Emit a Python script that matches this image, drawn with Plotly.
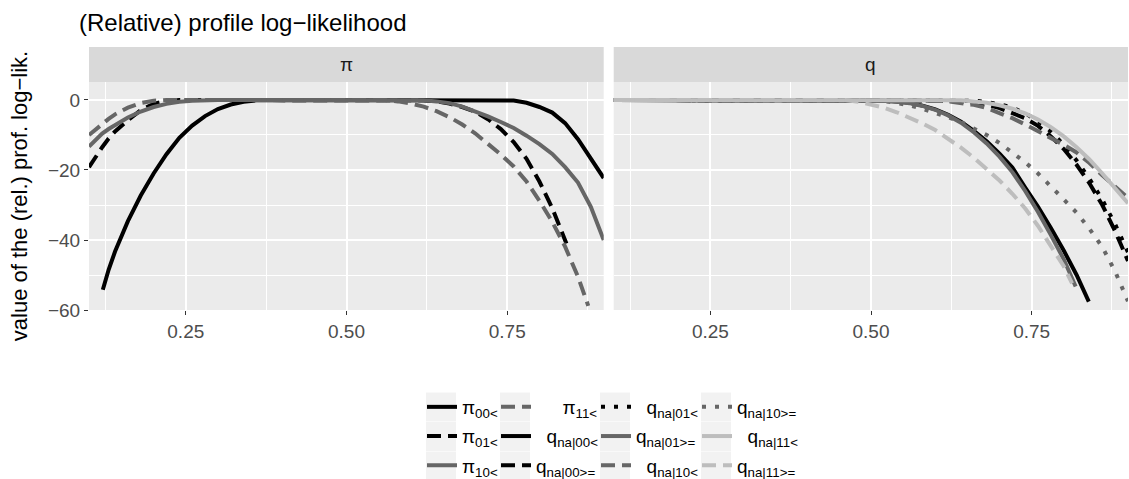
import plotly.graph_objects as go

# ---------------- data ----------------
# panel "pi"
pi00_x = [0.121, 0.13, 0.14, 0.15, 0.16, 0.18, 0.20, 0.22, 0.24, 0.26, 0.28, 0.30, 0.32, 0.34, 0.36, 0.38, 0.50, 0.74, 0.76, 0.78, 0.80, 0.82, 0.84, 0.86, 0.88, 0.90]
pi00_y = [-54.2, -48.5, -43.3, -38.8, -34.6, -27.3, -21.0, -15.5, -10.8, -7.3, -4.6, -2.6, -1.3, -0.5, -0.1, 0, 0, 0, -0.15, -0.8, -2.0, -3.6, -6.6, -11.2, -16.6, -22.3]

pi01_x = [0.0995, 0.11, 0.12, 0.13, 0.14, 0.16, 0.18, 0.20, 0.22, 0.24, 0.40, 0.60, 0.62, 0.64, 0.66, 0.68, 0.70, 0.72, 0.74, 0.76, 0.78, 0.80, 0.82, 0.842]
pi01_y = [-19.2, -16.0, -13.5, -11.0, -9.0, -5.8, -2.9, -1.1, -0.3, 0, 0, 0, -0.1, -0.4, -1.0, -2.0, -3.3, -5.5, -8.3, -12.0, -16.8, -23.3, -30.9, -41.0]

pi10_x = [0.0995, 0.11, 0.12, 0.13, 0.14, 0.16, 0.18, 0.20, 0.22, 0.24, 0.26, 0.28, 0.30, 0.45, 0.60, 0.62, 0.64, 0.66, 0.68, 0.70, 0.72, 0.74, 0.76, 0.78, 0.80, 0.82, 0.84, 0.86, 0.88, 0.90]
pi10_y = [-13.3, -11.2, -9.6, -8.3, -7.1, -5.0, -3.3, -2.0, -1.1, -0.5, -0.2, -0.05, 0, 0, 0, -0.1, -0.4, -0.9, -1.9, -3.2, -4.7, -6.3, -8.0, -10.2, -12.6, -15.4, -19.2, -23.6, -30.5, -40.0]

pi11_x = [0.0995, 0.11, 0.12, 0.13, 0.14, 0.16, 0.18, 0.20, 0.22, 0.40, 0.56, 0.58, 0.60, 0.62, 0.64, 0.66, 0.68, 0.70, 0.72, 0.74, 0.76, 0.78, 0.80, 0.82, 0.84, 0.86, 0.876]
pi11_y = [-10.0, -8.3, -6.9, -5.4, -4.1, -2.2, -0.9, -0.2, 0, 0, 0, -0.4, -1.0, -1.9, -3.2, -4.9, -7.0, -9.5, -12.4, -15.6, -19.0, -23.3, -28.8, -34.8, -41.9, -50.5, -58.8]

# panel "q"
q00l_x = [0.0995, 0.30, 0.48, 0.50, 0.52, 0.54, 0.56, 0.58, 0.60, 0.62, 0.64, 0.66, 0.68, 0.70, 0.72, 0.74, 0.76, 0.78, 0.80, 0.82, 0.839]
q00l_y = [0, 0, 0, -0.05, -0.2, -0.4, -0.8, -1.6, -2.7, -4.2, -6.2, -8.8, -11.8, -15.3, -19.3, -25.0, -30.5, -36.6, -43.0, -50.0, -57.6]

q00g_x = [0.0995, 0.30, 0.60, 0.62, 0.64, 0.66, 0.68, 0.70, 0.72, 0.74, 0.76, 0.78, 0.80, 0.82, 0.84, 0.86, 0.88, 0.90]
q00g_y = [0, 0, 0, -0.2, -0.4, -0.8, -1.3, -2.3, -3.6, -5.2, -7.4, -10.4, -14.0, -18.5, -23.8, -30.0, -37.5, -46.0]

q01l_x = [0.0995, 0.30, 0.64, 0.66, 0.68, 0.70, 0.72, 0.74, 0.76, 0.78, 0.80, 0.82, 0.84, 0.86, 0.88, 0.90]
q01l_y = [0, 0, 0, -0.2, -0.6, -1.2, -2.2, -3.8, -6.0, -9.0, -12.8, -17.3, -22.5, -28.5, -35.5, -43.5]

q01g_x = [0.0995, 0.30, 0.50, 0.52, 0.54, 0.56, 0.58, 0.60, 0.62, 0.64, 0.66, 0.68, 0.70, 0.72, 0.74, 0.76, 0.78, 0.80, 0.8185]
q01g_y = [0, 0, 0, -0.2, -0.5, -0.9, -1.7, -2.8, -4.4, -6.5, -9.2, -12.4, -16.2, -20.6, -26.0, -32.0, -38.6, -45.5, -53.3]

q10l_x = [0.0995, 0.30, 0.58, 0.60, 0.62, 0.64, 0.66, 0.68, 0.70, 0.72, 0.74, 0.76, 0.78, 0.80, 0.82, 0.84, 0.86, 0.88, 0.90]
q10l_y = [0, 0, 0, -0.2, -0.4, -0.8, -1.4, -2.3, -3.6, -5.2, -7.0, -8.9, -10.8, -12.8, -15.0, -18.0, -21.5, -24.8, -28.0]

q10g_x = [0.0995, 0.30, 0.50, 0.52, 0.54, 0.56, 0.58, 0.60, 0.62, 0.64, 0.66, 0.68, 0.70, 0.72, 0.74, 0.76, 0.78, 0.80, 0.82, 0.84, 0.86, 0.88, 0.90]
q10g_y = [0, 0, 0, -0.3, -0.8, -1.5, -2.5, -3.6, -4.9, -6.3, -8.0, -10.0, -12.3, -14.9, -17.8, -21.0, -24.6, -28.4, -32.2, -36.8, -42.0, -49.0, -57.5]

q11l_x = [0.0995, 0.30, 0.62, 0.64, 0.66, 0.68, 0.70, 0.72, 0.74, 0.76, 0.78, 0.80, 0.82, 0.84, 0.86, 0.88, 0.90]
q11l_y = [0, 0, 0, -0.1, -0.4, -0.8, -1.5, -2.5, -3.8, -5.6, -7.8, -10.4, -13.5, -17.0, -21.0, -25.3, -29.5]

q11g_x = [0.0995, 0.30, 0.46, 0.48, 0.50, 0.52, 0.54, 0.56, 0.58, 0.60, 0.62, 0.64, 0.66, 0.68, 0.70, 0.72, 0.74, 0.76, 0.78, 0.80, 0.813]
q11g_y = [0, 0, 0, -0.5, -1.3, -2.2, -3.5, -5.0, -6.7, -8.6, -11.0, -13.6, -16.5, -19.6, -23.0, -26.8, -31.0, -36.0, -41.5, -47.5, -52.4]

series_labels = [
    "π<sub>00&lt;</sub>", "π<sub>01&lt;</sub>", "π<sub>10&lt;</sub>", "π<sub>11&lt;</sub>",
    "q<sub>na|00&lt;</sub>", "q<sub>na|00&gt;=</sub>", "q<sub>na|01&lt;</sub>", "q<sub>na|01&gt;=</sub>",
    "q<sub>na|10&lt;</sub>", "q<sub>na|10&gt;=</sub>", "q<sub>na|11&lt;</sub>", "q<sub>na|11&gt;=</sub>",
]
panel_labels = ["π", "q"]
x_ticks = [0.25, 0.50, 0.75]
x_tick_text = ["0.25", "0.50", "0.75"]
y_ticks = [0, -20, -40, -60]
y_tick_text = ["0", "−20", "−40", "−60"]

# ---------------- styles ----------------
BLACK = "#000000"
GREY = "#666666"
LIGHT = "#BDBDBD"
DASH = "14px,7px"
DOT = "4px,9px"

series = [
    (pi00_x, pi00_y, BLACK, "solid", 1),
    (pi01_x, pi01_y, BLACK, DASH, 1),
    (pi10_x, pi10_y, GREY, "solid", 1),
    (pi11_x, pi11_y, GREY, DASH, 1),
    (q00l_x, q00l_y, BLACK, "solid", 2),
    (q00g_x, q00g_y, BLACK, DASH, 2),
    (q01l_x, q01l_y, BLACK, DOT, 2),
    (q01g_x, q01g_y, GREY, "solid", 2),
    (q10l_x, q10l_y, GREY, DASH, 2),
    (q10g_x, q10g_y, GREY, DOT, 2),
    (q11l_x, q11l_y, LIGHT, "solid", 2),
    (q11g_x, q11g_y, LIGHT, DASH, 2),
]

# legend column for each series (column-major, 3 rows) and label right-alignment padding
legend_ids = ["legend", "legend", "legend", "legend2", "legend2", "legend2",
              "legend3", "legend3", "legend3", "legend4", "legend4", "legend4"]
label_pad = [0, 0, 0, 5, 2, 0, 2, 0, 2, 0, 2, 0]

fig = go.Figure()
for i, (xs, ys, col, dash, panel) in enumerate(series):
    fig.add_trace(go.Scatter(
        x=xs, y=ys, mode="lines", name="\u00a0" * label_pad[i] + series_labels[i],
        line=dict(color=col, width=4, dash=dash),
        xaxis="x" if panel == 1 else "x2",
        yaxis="y" if panel == 1 else "y2",
        legend=legend_ids[i], legendgroup="g%d" % i,
        hoverinfo="skip",
    ))

# ---------------- layout geometry ----------------
W, H = 1129, 479
ML, MR, MT, MB = 89, 1, 47, 169
PW = W - ML - MR
PH = H - MT - MB

def px_x(p):
    return (p - ML) / PW

def px_y(p):
    return (H - MB - p) / PH

panel_top = px_y(82)
d1 = [0.0, px_x(603.7)]
d2 = [px_x(613.7), 1.0]

FONT = "Liberation Sans, Arial, Helvetica, sans-serif"
TICKFONT = dict(family=FONT, size=19, color="#4D4D4D")

common_x = dict(range=[0.0995, 0.90], tickvals=x_ticks, ticktext=x_tick_text,
                showgrid=True, gridcolor="white", gridwidth=1.6,
                minor=dict(tickvals=[0.125, 0.375, 0.625, 0.875], showgrid=True,
                           gridcolor="white", gridwidth=0.8, ticks=""),
                ticks="outside", ticklen=4, tickwidth=1, tickcolor="#333333",
                tickfont=TICKFONT, zeroline=False, showline=False, automargin=False)

xaxis1 = dict(common_x, domain=d1, anchor="y")
xaxis2 = dict(common_x, domain=d2, anchor="y2")

common_y = dict(range=[-60.0, 5.14], tickvals=y_ticks, ticktext=y_tick_text,
                showgrid=True, gridcolor="white", gridwidth=1.6,
                minor=dict(tickvals=[-10, -30, -50], showgrid=True,
                           gridcolor="white", gridwidth=0.8, ticks=""),
                zeroline=False, showline=False, domain=[0, panel_top], automargin=False)

yaxis1 = dict(common_y, anchor="x", ticks="outside", ticklen=4, tickwidth=1,
              tickcolor="#333333", tickfont=TICKFONT,
              title=dict(text="value of the (rel.) prof. log−lik.",
                         font=dict(family=FONT, size=22, color="#000000"),
                         standoff=14))
yaxis2 = dict(common_y, anchor="x2", matches="y", showticklabels=False, ticks="")

shapes = []
annotations = []
for dom, lab in zip([d1, d2], panel_labels):
    shapes.append(dict(type="rect", xref="paper", yref="paper",
                       x0=dom[0], x1=dom[1], y0=panel_top, y1=1.0,
                       fillcolor="#D9D9D9", line=dict(width=0), layer="below"))
    annotations.append(dict(text=lab, xref="paper", yref="paper",
                            x=(dom[0] + dom[1]) / 2, y=(panel_top + 1.0) / 2,
                            xanchor="center", yanchor="middle", showarrow=False,
                            font=dict(family=FONT, size=19, color="#1A1A1A")))

# legend key backgrounds
key_left = [428, 502, 602, 703]
row_mid = [407, 436.5, 466]
for kx in key_left:
    for ry in row_mid:
        shapes.append(dict(type="rect", xref="paper", yref="paper",
                           x0=px_x(kx - 2), x1=px_x(kx + 28),
                           y0=px_y(ry + 14.5), y1=px_y(ry - 14.5),
                           fillcolor="#F2F2F2", line=dict(width=0), layer="below"))

legend_common = dict(orientation="v", xanchor="left", yanchor="top",
                     bgcolor="rgba(0,0,0,0)", borderwidth=0,
                     font=dict(family=FONT, size=19, color="#000000"),
                     traceorder="grouped", tracegroupgap=1.5, itemwidth=30)
legends = {}
names = ["legend", "legend2", "legend3", "legend4"]
for name, kx in zip(names, key_left):
    legends[name] = dict(legend_common, x=px_x(kx - 6), y=px_y(row_mid[0] - 19))

fig.update_layout(
    width=W, height=H,
    margin=dict(l=ML, r=MR, t=MT, b=MB, autoexpand=False),
    paper_bgcolor="white", plot_bgcolor="#EBEBEB",
    font=dict(family=FONT, size=19, color="#000000"),
    title=dict(text="(Relative) profile log−likelihood", xref="container", yref="container",
               x=79 / W, xanchor="left", y=1 - 23 / H, yanchor="middle",
               font=dict(family=FONT, size=24, color="#000000")),
    xaxis=xaxis1, xaxis2=xaxis2, yaxis=yaxis1, yaxis2=yaxis2,
    shapes=shapes, annotations=annotations,
    showlegend=True,
    **legends,
)

fig.write_html("out.html")
